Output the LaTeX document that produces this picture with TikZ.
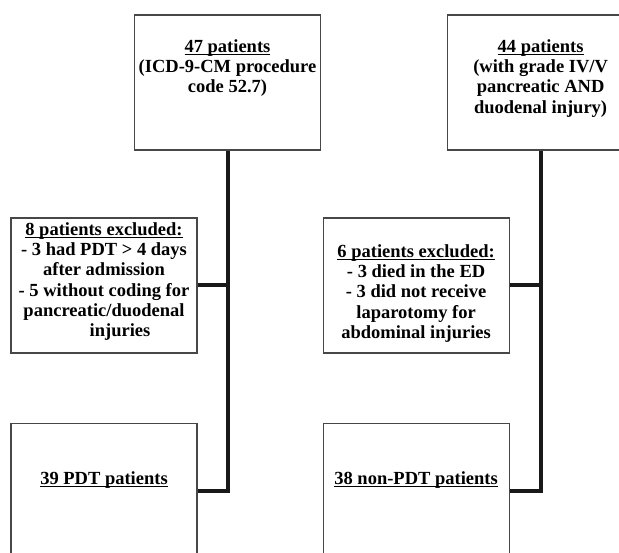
\documentclass[tikz,border=0pt]{standalone}
\usepackage{fontspec}
\setmainfont{Liberation Serif}
\usepackage{tikz}
\usetikzlibrary{positioning}

% underline sitting close to the baseline
\newlength{\ulwd}
\newcommand{\ulined}[1]{\leavevmode\settowidth{\ulwd}{#1}\rlap{\rule[-3pt]{\ulwd}{1.4pt}}#1}
% fixed-size box body, text hung from the top
\newcommand{\boxbody}[2]{\parbox[c][135pt][t]{186pt}{\centering\vspace*{#1}#2}}

\tikzset{
	flowbox/.style={draw=black!72, line width=1.1pt, inner sep=0pt,
		font=\fontsize{18.5}{20.3}\selectfont\bfseries},
	trunk/.style={line width=4pt, draw=black!90}
}

\begin{document}
\begin{tikzpicture}[x=1pt, y=1pt]
	\path[use as bounding box, fill=white] (0,0) rectangle (619,-553);
	\clip (0,0) rectangle (619,-553);
	
	%% ── Source cohorts ──────────────────────────────────────────────
	\node[flowbox] (src1) at (227.5,-82.5)
	{\boxbody{24.5pt}{\ulined{47 patients}\\(ICD-9-CM procedure\\code 52.7)}};
	
	\node[flowbox, right=126pt of src1] (src2)
	{\boxbody{24.5pt}{\ulined{44 patients}\\(with grade IV/V\\pancreatic AND\\duodenal injury)}};
	
	%% ── Exclusions ──────────────────────────────────────────────────
	\node[flowbox] (excl1) at (104,-285.5)
	{\boxbody{4.5pt}{\ulined{8 patients excluded:}\\- 3 had PDT > 4 days\\after admission\\- 5 without coding for\\pancreatic/duodenal\\\hspace*{32pt}injuries}};
	
	\node[flowbox, right=125pt of excl1] (excl2)
	{\boxbody{26.5pt}{\ulined{6 patients excluded:}\\- 3 died in the ED\\- 3 did not receive\\laparotomy for\\abdominal injuries}};
	
	%% ── Final groups ────────────────────────────────────────────────
	\node[flowbox, below=69pt of excl1] (pdt)
	{\boxbody{48.5pt}{\ulined{39 PDT patients}}};
	
	\node[flowbox, below=69pt of excl2] (nonpdt)
	{\boxbody{48.5pt}{\ulined{38 non-PDT patients}}};
	
	%% ── Connectors ──────────────────────────────────────────────────
	\draw[trunk] (src1.south) |- (pdt.east);
	\draw[trunk] (excl1.east) -- (excl1.east -| src1.south);
	
	\draw[trunk] (src2.south) |- (nonpdt.east);
	\draw[trunk] (excl2.east) -- (excl2.east -| src2.south);
\end{tikzpicture}
\end{document}
